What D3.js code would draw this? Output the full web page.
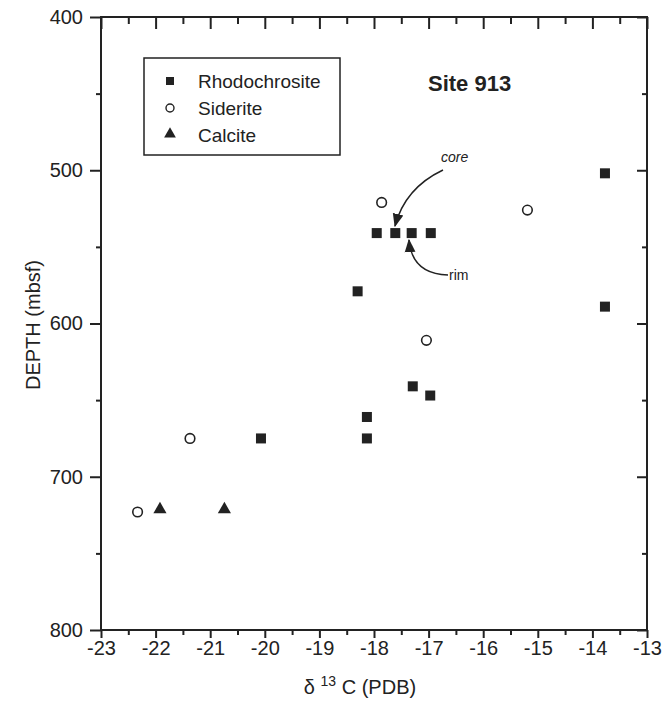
<!DOCTYPE html>
<html>
<head>
<meta charset="utf-8">
<script src="https://cdn.jsdelivr.net/npm/d3@7"></script>
<style>
  body { margin: 0; background: #fff; }
  text { font-family: "Liberation Sans", Arial, sans-serif; fill: #222; }
  .axis line { stroke: #222; stroke-width: 2; }
  .axis path { display: none; }
  .axis text { font-size: 20px; }
</style>
</head>
<body>
<div id="chart"></div>
<script>
// delta 13C (PDB) vs depth (mbsf), Site 913
var rhodoC = [-13.77, -13.77, -17.95, -17.61, -17.31, -16.96, -18.30, -17.29, -16.97, -18.13, -18.13, -20.07];
var rhodoDepth = [502, 589, 541, 541, 541, 541, 579, 641, 647, 661, 675, 675];
var sideriteC = [-17.86, -15.19, -17.04, -21.37, -22.33];
var sideriteDepth = [521, 526, 611, 675, 723];
var calciteC = [-21.92, -20.74];
var calciteDepth = [722, 722];

var xMajor = [-23, -22, -21, -20, -19, -18, -17, -16, -15, -14, -13];
var xMinor = [-22.5, -21.5, -20.5, -19.5, -18.5, -17.5, -16.5, -15.5, -14.5, -13.5];
var yMajor = [400, 500, 600, 700, 800];
var yMinor = [450, 550, 650, 750];
var legendNames = ["Rhodochrosite", "Siderite", "Calcite"];

var width = 671, height = 706;
var mLeft = 101, mTop = 17, plotW = 546, plotH = 613;

var svg = d3.select("#chart").append("svg")
  .attr("width", width)
  .attr("height", height);

var x = d3.scaleLinear().domain([-23, -13]).range([mLeft, mLeft + plotW]);
var y = d3.scaleLinear().domain([400, 800]).range([mTop, mTop + plotH]);

// axes: left/bottom outward, top/right inward
svg.append("g").attr("class", "axis")
  .attr("transform", "translate(" + mLeft + ",0)")
  .call(d3.axisLeft(y).tickValues(yMajor).tickSize(11).tickPadding(7).tickFormat(d3.format("d")));
svg.append("g").attr("class", "axis")
  .attr("transform", "translate(" + mLeft + ",0)")
  .call(d3.axisLeft(y).tickValues(yMinor).tickSize(5).tickFormat(""));
svg.append("g").attr("class", "axis")
  .attr("transform", "translate(" + (mLeft + plotW) + ",0)")
  .call(d3.axisRight(y).tickValues(yMajor).tickSize(-10).tickFormat(""));
svg.append("g").attr("class", "axis")
  .attr("transform", "translate(" + (mLeft + plotW) + ",0)")
  .call(d3.axisRight(y).tickValues(yMinor).tickSize(-5).tickFormat(""));

svg.append("g").attr("class", "axis")
  .attr("transform", "translate(0," + (mTop + plotH) + ")")
  .call(d3.axisBottom(x).tickValues(xMajor).tickSize(8).tickPadding(3).tickFormat(d3.format("d")));
svg.append("g").attr("class", "axis")
  .attr("transform", "translate(0," + (mTop + plotH) + ")")
  .call(d3.axisBottom(x).tickValues(xMinor).tickSize(5).tickFormat(""));
svg.append("g").attr("class", "axis")
  .attr("transform", "translate(0," + mTop + ")")
  .call(d3.axisTop(x).tickValues(xMajor).tickSize(-12).tickFormat(""));
svg.append("g").attr("class", "axis")
  .attr("transform", "translate(0," + mTop + ")")
  .call(d3.axisTop(x).tickValues(xMinor).tickSize(-7).tickFormat(""));

// hyphen as minus like the original
svg.selectAll(".axis text").text(function() { return d3.select(this).text().replace("\u2212", "-"); });

svg.append("rect")
  .attr("x", mLeft).attr("y", mTop)
  .attr("width", plotW).attr("height", plotH)
  .attr("fill", "none").attr("stroke", "#222").attr("stroke-width", 2);

// axis titles
var xt = svg.append("text")
  .attr("x", 360).attr("y", 694)
  .attr("text-anchor", "middle")
  .style("font-size", "20px");
xt.append("tspan").text("\u03b4 ");
xt.append("tspan").attr("dy", -8).style("font-size", "14px").text("13");
xt.append("tspan").attr("dy", 8).text(" C (PDB)");

svg.append("text")
  .attr("transform", "translate(40,325) rotate(-90)")
  .attr("text-anchor", "middle")
  .style("font-size", "20px")
  .text("DEPTH (mbsf)");

// points
var sym = d3.symbol();
function pts(xs, ys) {
  return xs.map(function(v, i) { return { c: v, depth: ys[i] }; });
}

svg.selectAll(".rhodo").data(pts(rhodoC, rhodoDepth)).enter()
  .append("rect").attr("class", "rhodo")
  .attr("x", function(d) { return x(d.c) - 5; })
  .attr("y", function(d) { return y(d.depth) - 5; })
  .attr("width", 10).attr("height", 10)
  .attr("fill", "#222");

svg.selectAll(".siderite").data(pts(sideriteC, sideriteDepth)).enter()
  .append("circle").attr("class", "siderite")
  .attr("cx", function(d) { return x(d.c); })
  .attr("cy", function(d) { return y(d.depth); })
  .attr("r", 4.8)
  .attr("fill", "#fff").attr("stroke", "#222").attr("stroke-width", 1.6);

svg.selectAll(".calcite").data(pts(calciteC, calciteDepth)).enter()
  .append("path").attr("class", "calcite")
  .attr("transform", function(d) { return "translate(" + x(d.c) + "," + (y(d.depth) - 1) + ")"; })
  .attr("d", sym.type(d3.symbolTriangle).size(75))
  .attr("fill", "#222");

// legend
svg.append("rect")
  .attr("x", 144).attr("y", 58).attr("width", 196).attr("height", 97)
  .attr("fill", "#fff").attr("stroke", "#222").attr("stroke-width", 1.5);
var legY = [81, 108, 135];
svg.append("rect").attr("x", 166).attr("y", legY[0] - 4).attr("width", 8).attr("height", 8).attr("fill", "#222");
svg.append("circle").attr("cx", 170).attr("cy", legY[1]).attr("r", 4)
  .attr("fill", "#fff").attr("stroke", "#222").attr("stroke-width", 1.4);
svg.append("path").attr("transform", "translate(170," + (legY[2] - 1) + ")")
  .attr("d", d3.symbol().type(d3.symbolTriangle).size(60)).attr("fill", "#222");
svg.selectAll(".legtext").data(legendNames).enter()
  .append("text").attr("class", "legtext")
  .attr("x", 198)
  .attr("y", function(d, i) { return legY[i]; })
  .attr("dy", "0.35em")
  .style("font-size", "19px")
  .text(function(d) { return d; });

svg.append("text")
  .attr("x", 428).attr("y", 91)
  .style("font-size", "22px").style("font-weight", "bold")
  .text("Site 913");

// core / rim arrows
var defs = svg.append("defs");
defs.append("marker").attr("id", "head")
  .attr("viewBox", "0 0 10 10").attr("refX", 9).attr("refY", 5)
  .attr("markerWidth", 9).attr("markerHeight", 9).attr("orient", "auto")
  .append("path").attr("d", "M0,1 L10,5 L0,9 Z").attr("fill", "#222");

svg.append("path")
  .attr("d", "M443,170 Q405,188 395,226")
  .attr("fill", "none").attr("stroke", "#222").attr("stroke-width", 1.5)
  .attr("marker-end", "url(#head)");
svg.append("path")
  .attr("d", "M448,275 Q412,274 409,240")
  .attr("fill", "none").attr("stroke", "#222").attr("stroke-width", 1.5)
  .attr("marker-end", "url(#head)");

svg.append("text").attr("x", 441).attr("y", 162)
  .style("font-size", "14px").style("font-style", "italic").text("core");
svg.append("text").attr("x", 449).attr("y", 280)
  .style("font-size", "14px").text("rim");
</script>
</body>
</html>
